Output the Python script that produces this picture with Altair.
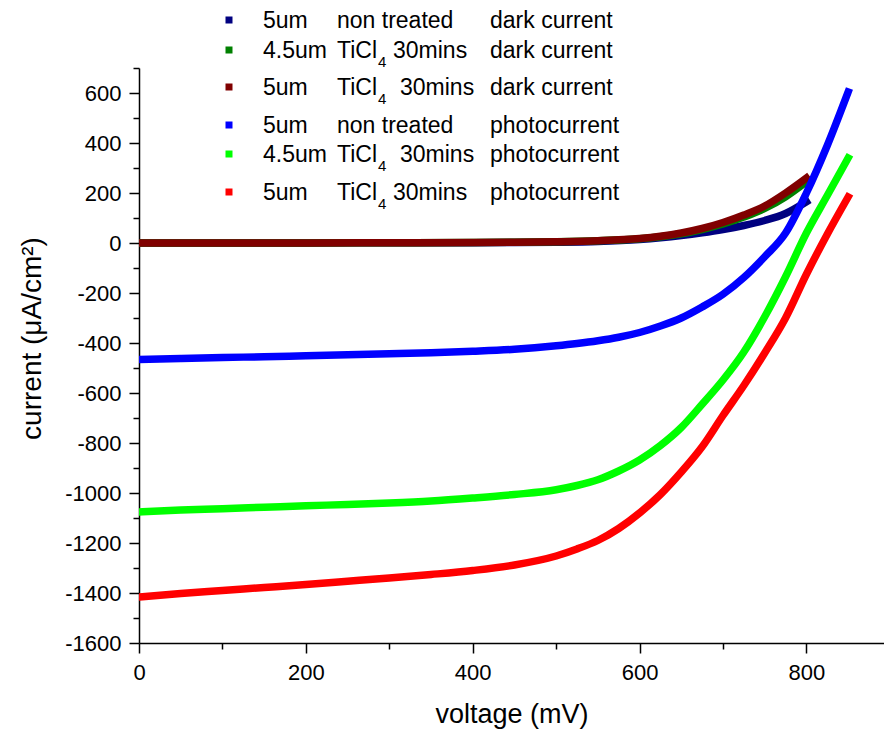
import altair as alt
import pandas as pd

# ---------------- data ----------------
V_DARK = [0, 100, 200, 300, 400, 450, 500, 550, 600, 625, 650, 675, 700, 725, 750, 775, 800]
I_DARK_5UM_NT = [0, 0, 0, 1, 1, 2, 3, 6, 14, 21, 30, 41, 54, 70, 90, 118, 165]
I_DARK_45UM_TI = [0, 0, 0, 1, 2, 3, 5, 9, 17, 25, 37, 54, 76, 104, 138, 185, 245]
I_DARK_5UM_TI = [0, 0, 0, 1, 2, 3, 5, 9, 18, 27, 40, 58, 82, 112, 148, 200, 260]

V_PHOTO = [0, 50, 100, 150, 200, 250, 300, 350, 400, 450, 500, 525, 550, 575,
           600, 625, 650, 675, 700, 725, 750, 775, 800, 825, 850]
I_PHOTO_5UM_NT = [-466, -462, -458, -455, -451, -447, -443, -439, -433, -425, -411, -402, -391, -377,
                  -358, -332, -300, -256, -205, -138, -55, 40, 200, 390, 604]
I_PHOTO_45UM_TI = [-1076, -1068, -1063, -1057, -1051, -1046, -1040, -1032, -1020, -1006, -987, -970, -947, -912,
                   -868, -810, -738, -645, -548, -436, -295, -135, 40, 190, 340]
I_PHOTO_5UM_TI = [-1416, -1402, -1390, -1378, -1366, -1353, -1340, -1326, -1310, -1288, -1252, -1224, -1190, -1142,
                  -1080, -1006, -916, -815, -690, -570, -440, -300, -125, 35, 184]

# legend text fragments: thickness, treatment, subscript, duration, kind
LEG_COL1 = ["5um", "4.5um", "5um", "5um", "4.5um", "5um"]
LEG_COL2 = ["non treated", "TiCl", "TiCl", "non treated", "TiCl", "TiCl"]
LEG_SUB = ["", "4", "4", "", "4", "4"]
LEG_COL2B = ["", "30mins", "30mins", "", "30mins", "30mins"]
LEG_COL3 = ["dark current", "dark current", "dark current", "photocurrent", "photocurrent", "photocurrent"]

COLORS = ["#000080", "#008000", "#800000", "#0000ff", "#00ff00", "#ff0000"]
SERIES = [
    (V_DARK, I_DARK_5UM_NT),
    (V_DARK, I_DARK_45UM_TI),
    (V_DARK, I_DARK_5UM_TI),
    (V_PHOTO, I_PHOTO_5UM_NT),
    (V_PHOTO, I_PHOTO_45UM_TI),
    (V_PHOTO, I_PHOTO_5UM_TI),
]

# ---------------- layout ----------------
FONT = "Liberation Sans"
LEFT, TOP = 139, 68
W, H = 745, 575
X_DOMAIN = [0, 893]
Y_DOMAIN = [-1600, 700]

xs = alt.Scale(domain=X_DOMAIN, nice=False, zero=False)
ys = alt.Scale(domain=Y_DOMAIN, nice=False, zero=False)

major_x = alt.Axis(orient="bottom", values=[0, 200, 400, 600, 800], tickSize=10, tickWidth=1.5,
                   domainWidth=1.5, domainColor="black", tickColor="black", grid=False,
                   labelFont=FONT, labelFontSize=22, labelColor="black", labelPadding=9,
                   labelFlush=False, labelOverlap=False, labelExpr="'' + datum.value",
                   title="voltage (mV)", titleFont=FONT, titleFontSize=27, titleFontWeight="normal",
                   titleColor="black", titlePadding=18)
major_y = alt.Axis(orient="left", values=list(range(-1600, 601, 200)), tickSize=10, tickWidth=1.5,
                   domainWidth=1.5, domainColor="black", tickColor="black", grid=False,
                   labelFont=FONT, labelFontSize=22, labelColor="black", labelPadding=8,
                   labelFlush=False, labelOverlap=False, labelExpr="'' + datum.value",
                   title="current (μA/cm²)", titleFont=FONT, titleFontSize=28, titleFontWeight="normal",
                   titleColor="black", titlePadding=18, titleY=270)
minor_x = alt.Axis(orient="bottom", values=[100, 300, 500, 700], tickSize=6, tickWidth=1.5,
                   tickColor="black", domain=False, labels=False, grid=False, title=None)
minor_y = alt.Axis(orient="left", values=list(range(-1500, 701, 200)), tickSize=6, tickWidth=1.5,
                   tickColor="black", domain=False, labels=False, grid=False, title=None)

layers = []
for k, ((vv, ii), col) in enumerate(zip(SERIES, COLORS)):
    df = pd.DataFrame({"V": vv, "I": ii})
    layers.append(
        alt.Chart(df).mark_line(color=col, strokeWidth=7.5, strokeCap="square", strokeJoin="round",
                                interpolate="monotone", clip=True)
        .encode(x=alt.X("V:Q", scale=xs, axis=major_x if k == 0 else None),
                y=alt.Y("I:Q", scale=ys, axis=major_y if k == 0 else None))
    )

# minor ticks layer (invisible points)
df_minor = pd.DataFrame({"V": V_PHOTO, "I": I_PHOTO_5UM_NT})
layers.append(
    alt.Chart(df_minor).mark_point(opacity=0)
    .encode(x=alt.X("V:Q", scale=xs, axis=minor_x), y=alt.Y("I:Q", scale=ys, axis=minor_y))
)

# ---------------- legend (text fragments placed in pixel space) ----------------
ROW_BASE = [28, 58, 95, 133, 162, 200]
ROW_MID = [20, 50, 87, 125, 154, 192]
rows_txt = []
rows_sym = []
for r in range(6):
    b = ROW_BASE[r] - TOP
    rows_sym.append({"x": 229 - LEFT, "y": ROW_MID[r] - TOP, "c": COLORS[r]})
    rows_txt.append({"t": LEG_COL1[r], "x": 263 - LEFT, "y": b, "fs": 23})
    rows_txt.append({"t": LEG_COL2[r], "x": 337 - LEFT, "y": b, "fs": 23})
    if LEG_SUB[r]:
        rows_txt.append({"t": LEG_SUB[r], "x": 378 - LEFT, "y": b + 9, "fs": 15})
        x2b = 393 if r in (1, 5) else 400
        rows_txt.append({"t": LEG_COL2B[r], "x": x2b - LEFT, "y": b, "fs": 23})
    rows_txt.append({"t": LEG_COL3[r], "x": 490 - LEFT, "y": b, "fs": 23})

leg_txt = alt.Chart(pd.DataFrame(rows_txt)).mark_text(
    align="left", baseline="alphabetic", font=FONT, color="black"
).encode(x=alt.X("x:Q", scale=None, axis=None), y=alt.Y("y:Q", scale=None, axis=None),
         text="t:N", size=alt.Size("fs:Q", scale=None, legend=None))
leg_sym = alt.Chart(pd.DataFrame(rows_sym)).mark_square(size=49, opacity=1).encode(
    x=alt.X("x:Q", scale=None, axis=None), y=alt.Y("y:Q", scale=None, axis=None),
    color=alt.Color("c:N", scale=None, legend=None))
layers += [leg_sym, leg_txt]

chart = alt.layer(*layers).resolve_scale(x="independent", y="independent").resolve_axis(
    x="independent", y="independent"
).properties(
    width=W, height=H, autosize=alt.AutoSizeParams(type="none"),
    padding={"left": LEFT, "top": TOP, "right": 0, "bottom": 735 - TOP - H},
    background="white",
).configure_view(stroke=None)

chart.save("out.html", embed_options={"renderer": "svg", "actions": False})
